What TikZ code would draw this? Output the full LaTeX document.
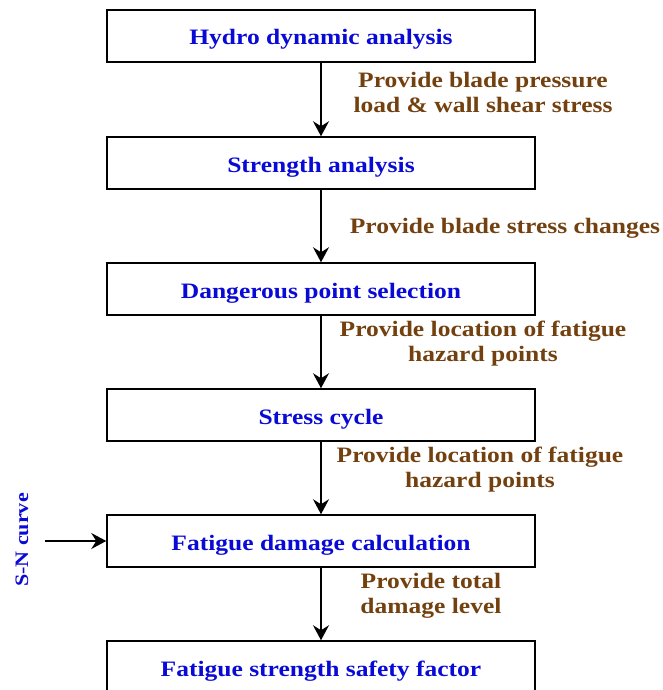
\documentclass[tikz,border=0pt]{standalone}
\usepackage{fontspec}
\setmainfont[FakeStretch=1.16]{Liberation Serif}
\usetikzlibrary{arrows.meta,positioning}
\definecolor{stepblue}{RGB}{10,10,215}
\definecolor{notebrown}{RGB}{115,65,15}
\tikzset{
  stepbox/.style={draw,line width=1.5pt,minimum width=428pt,minimum height=52pt,
    text height=20pt,text depth=2pt,
    text=stepblue,font=\fontsize{22}{25}\selectfont\bfseries},
  note/.style={text=notebrown,align=center,font=\fontsize{22}{25}\selectfont\bfseries},
  flow/.style={line width=1.4pt,-{Stealth[length=15pt,width=16pt,inset=5pt]}}
}
\begin{document}
\begin{tikzpicture}[x=1pt,y=-1pt]
\useasboundingbox (0,0) rectangle (663,690);
%% the six analysis steps
\node[stepbox] (hydro) at (321,36) {Hydro dynamic analysis};
\node[stepbox] (strength) at (321,163) {Strength analysis};
\node[stepbox] (danger) at (321,289) {Dangerous point selection};
\node[stepbox] (cycle) at (321,415) {Stress cycle};
\node[stepbox] (damage) at (321,541) {Fatigue damage calculation};
\node[stepbox] (safety) at (321,667) {Fatigue strength safety factor};
\draw[flow] (hydro) -- (strength);
\draw[flow] (strength) -- (danger);
\draw[flow] (danger) -- (cycle);
\draw[flow] (cycle) -- (damage);
\draw[flow] (damage) -- (safety);
%% what each step hands on
\node[note] (pressure) at (483,92) {Provide blade pressure\\load \& wall shear stress};
\node[note] (changes) at (505,228) {Provide blade stress changes};
\node[note] (hazard) at (483,344) {Provide location of fatigue\\hazard points};
\node[note] (hazardb) at (480,470) {Provide location of fatigue\\hazard points};
\node[note] (total) at (431,596) {Provide total\\damage level};
%% input from the side
\node[text=stepblue,rotate=90,font=\fontsize{19}{23}\selectfont\bfseries] (sn) at (22,540) {S-N curve};
\coordinate (snend) at (45,541);
\draw[flow] (snend) -- (damage);
\end{tikzpicture}
\end{document}
